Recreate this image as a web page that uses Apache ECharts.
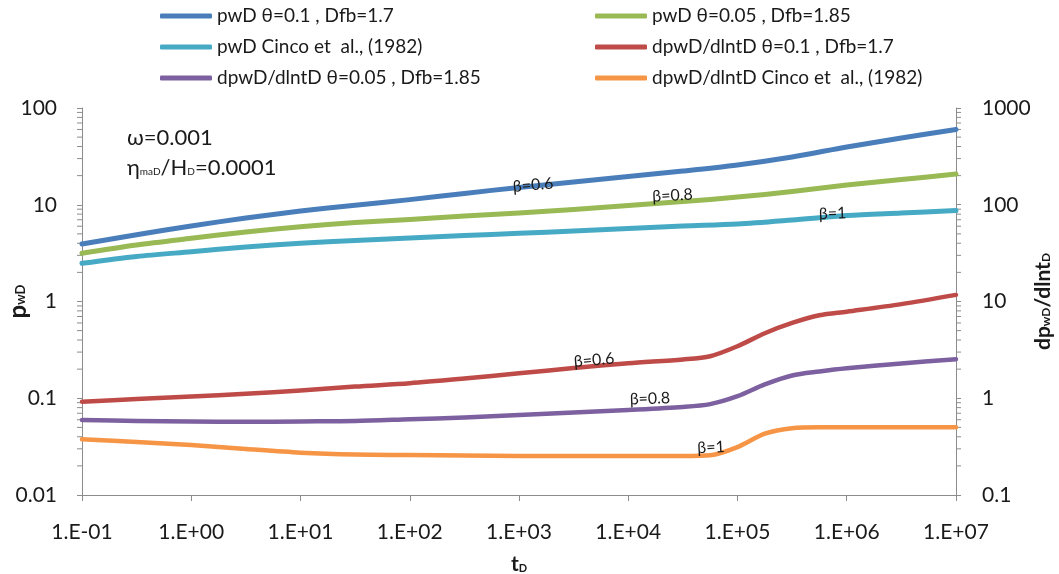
<!DOCTYPE html>
<html>
<head>
<meta charset="utf-8">
<title>pwD and derivative vs tD</title>
<script src="https://cdn.jsdelivr.net/npm/echarts@6/dist/echarts.min.js"></script>
<style>
  html, body { margin: 0; padding: 0; background: #ffffff; }
  #chart { width: 1059px; height: 574px; }
</style>
</head>
<body>
<div id="chart"></div>
<script>
// Dimensionless time grids (half decades; finer around the transition)
const tHalf = [0.1, 0.316, 1, 3.16, 10, 31.6, 100, 316, 1000, 3162, 10000, 31623, 100000, 316228, 1000000, 3162278, 10000000];
const tFine = [0.1, 0.316, 1, 3.16, 10, 31.6, 100, 316, 1000, 3162, 10000, 31623, 56234, 100000, 177828, 316228, 562341, 1000000, 3162278, 10000000];

// Dimensionless wellbore pressure (left axis)
const pwdTheta01 = [3.93, 4.9, 6.03, 7.3, 8.6, 9.9, 11.3, 13.1, 15.1, 17.2, 19.6, 22.3, 25.8, 31.2, 39.5, 49, 60];
const pwdTheta005 = [3.15, 3.84, 4.5, 5.23, 5.93, 6.55, 7.04, 7.65, 8.2, 8.93, 9.8, 10.8, 12.0, 13.7, 16.0, 18.2, 20.8];
const pwdCinco = [2.48, 2.92, 3.27, 3.66, 4.0, 4.27, 4.53, 4.81, 5.07, 5.35, 5.69, 6.03, 6.32, 6.95, 7.74, 8.22, 8.72];

// Pressure derivative dpwD/dlntD (right axis)
const derTheta01 = [0.92, 0.98, 1.04, 1.11, 1.2, 1.32, 1.43, 1.6, 1.81, 2.05, 2.3, 2.52, 2.72, 3.45, 4.7, 6.0, 7.2, 7.85, 9.4, 11.7];
const derTheta005 = [0.596, 0.582, 0.576, 0.57, 0.576, 0.582, 0.607, 0.633, 0.671, 0.713, 0.757, 0.813, 0.87, 1.05, 1.39, 1.72, 1.89, 2.04, 2.29, 2.53];
const derCinco = [0.377, 0.353, 0.329, 0.299, 0.274, 0.262, 0.259, 0.256, 0.253, 0.253, 0.253, 0.253, 0.258, 0.313, 0.43, 0.49, 0.5, 0.5, 0.5, 0.5];

const seriesNames = [
  'pwD θ=0.1 , Dfb=1.7',
  'pwD θ=0.05 , Dfb=1.85',
  'pwD Cinco et  al., (1982)',
  'dpwD/dlntD θ=0.1 , Dfb=1.7',
  'dpwD/dlntD θ=0.05 , Dfb=1.85',
  'dpwD/dlntD Cinco et  al., (1982)'
];
const seriesColors = ['#4A7EBB', '#98B954', '#46AAC5', '#BE4B48', '#7D60A0', '#F69546'];

// β annotations: [tD, value, text]
const betaLabels = [
  [1343, 16.0, 'β=0.6'],
  [25400, 12.46, 'β=0.8'],
  [741000, 8.12, 'β=1'],
  [4870, 2.48, 'β=0.6'],
  [15800, 0.99, 'β=0.8'],
  [57200, 0.31, 'β=1']
];
const betaRotate = [5, 3, 2, 5, 2, 3];

// Tick labels
const xTickLabels = ['1.E-01', '1.E+00', '1.E+01', '1.E+02', '1.E+03', '1.E+04', '1.E+05', '1.E+06', '1.E+07'];
const leftTickLabels = ['0.01', '0.1', '1', '10', '100'];
const rightTickLabels = ['0.1', '1', '10', '100', '1000'];
const leftMinorTicks = [0.02, 0.03, 0.04, 0.05, 0.06, 0.07, 0.08, 0.09,
  0.2, 0.3, 0.4, 0.5, 0.6, 0.7, 0.8, 0.9,
  2, 3, 4, 5, 6, 7, 8, 9,
  20, 30, 40, 50, 60, 70, 80, 90];
const rightMinorTicks = [0.2, 0.3, 0.4, 0.5, 0.6, 0.7, 0.8, 0.9,
  2, 3, 4, 5, 6, 7, 8, 9,
  20, 30, 40, 50, 60, 70, 80, 90,
  200, 300, 400, 500, 600, 700, 800, 900];

const FONT = 'Lato';
const AXIS_COLOR = '#8c8c8c';
const TEXT_COLOR = '#1a1a1a';

function pairs(xs, ys) { return xs.map((x, i) => [x, ys[i]]); }
function decade(v) { return Math.round(Math.log10(v)); }

const curveData = [
  pairs(tHalf, pwdTheta01),
  pairs(tHalf, pwdTheta005),
  pairs(tHalf, pwdCinco),
  pairs(tFine, derTheta01),
  pairs(tFine, derTheta005),
  pairs(tFine, derCinco)
];

const lineSeries = curveData.map((d, i) => ({
  name: seriesNames[i],
  type: 'line',
  xAxisIndex: 0,
  yAxisIndex: i < 3 ? 0 : 1,
  data: d,
  smooth: 0.3,
  symbol: 'none',
  showSymbol: false,
  color: seriesColors[i],
  lineStyle: { width: i < 3 ? 5 : 4.5, color: seriesColors[i], cap: 'round', join: 'round' },
  z: 3,
  markPoint: {
    symbol: 'rect',
    symbolSize: 0,
    silent: true,
    label: {
      show: true,
      position: 'inside',
      formatter: '{b}',
      fontFamily: FONT,
      fontSize: 16,
      color: TEXT_COLOR,
      rotate: betaRotate[i]
    },
    data: [{ name: betaLabels[i][2], coord: [betaLabels[i][0], betaLabels[i][1]] }]
  }
}));

// Minor tick marks at 2..9 of each decade, placed through the axis scales
const minorTickSeries = [
  {
    type: 'custom',
    xAxisIndex: 0,
    yAxisIndex: 0,
    silent: true,
    clip: false,
    data: leftMinorTicks.map(v => [0.1, v]),
    renderItem: (params, api) => {
      const p = api.coord([api.value(0), api.value(1)]);
      return { type: 'line', shape: { x1: p[0] - 5, y1: p[1], x2: p[0], y2: p[1] },
        style: { stroke: AXIS_COLOR, lineWidth: 1 } };
    }
  },
  {
    type: 'custom',
    xAxisIndex: 0,
    yAxisIndex: 1,
    silent: true,
    clip: false,
    data: rightMinorTicks.map(v => [10000000, v]),
    renderItem: (params, api) => {
      const p = api.coord([api.value(0), api.value(1)]);
      return { type: 'line', shape: { x1: p[0], y1: p[1], x2: p[0] + 5, y2: p[1] },
        style: { stroke: AXIS_COLOR, lineWidth: 1 } };
    }
  }
];

const legendCommon = {
  orient: 'vertical',
  top: 0,
  icon: 'roundRect',
  itemWidth: 52,
  itemHeight: 5,
  itemGap: 9,
  selectedMode: false,
  textStyle: { fontFamily: FONT, fontSize: 19, color: TEXT_COLOR, lineHeight: 22 }
};

const axisLineStyle = { show: true, lineStyle: { color: AXIS_COLOR, width: 1 } };
const axisTickStyle = { show: true, length: 5, lineStyle: { color: AXIS_COLOR, width: 1 } };
const labelStyle = { fontFamily: FONT, fontSize: 21, color: TEXT_COLOR };

const option = {
  animation: false,
  backgroundColor: '#ffffff',
  legend: [
    Object.assign({}, legendCommon, { left: 155, data: [seriesNames[0], seriesNames[2], seriesNames[4]] }),
    Object.assign({}, legendCommon, { left: 590, data: [seriesNames[1], seriesNames[3], seriesNames[5]] })
  ],
  grid: { left: 82, right: 103, top: 108, bottom: 79, containLabel: false, outerBoundsMode: 'none' },
  xAxis: {
    type: 'log',
    logBase: 10,
    min: 0.1,
    max: 10000000,
    axisLine: axisLineStyle,
    axisTick: Object.assign({}, axisTickStyle, { length: 6 }),
    splitLine: { show: false },
    axisLabel: Object.assign({}, labelStyle, {
      margin: 27,
      formatter: v => xTickLabels[decade(v) + 1]
    }),
    name: '{b|t}{s|D}',
    nameLocation: 'middle',
    nameGap: 57,
    nameMoveOverlap: false,
    nameTextStyle: {
      rich: {
        b: { fontFamily: FONT, fontSize: 21, fontWeight: 'bold', color: TEXT_COLOR, lineHeight: 24 },
        s: { fontFamily: FONT, fontSize: 11, fontWeight: 'bold', color: TEXT_COLOR, verticalAlign: 'bottom', lineHeight: 24, padding: [0, 0, 2, 0] }
      }
    }
  },
  yAxis: [
    {
      type: 'log',
      logBase: 10,
      min: 0.01,
      max: 100,
      position: 'left',
      axisLine: axisLineStyle,
      axisTick: axisTickStyle,
      splitLine: { show: false },
      axisLabel: Object.assign({}, labelStyle, {
        margin: 25,
        formatter: v => leftTickLabels[decade(v) + 2]
      }),
      name: '{b|p}{s|wD}',
      nameLocation: 'middle',
      nameRotate: 90,
      nameGap: 51,
      nameMoveOverlap: false,
      nameTextStyle: {
        rich: {
          b: { fontFamily: FONT, fontSize: 24, fontWeight: 'bold', color: TEXT_COLOR, lineHeight: 26 },
          s: { fontFamily: FONT, fontSize: 13, fontWeight: 'bold', color: TEXT_COLOR, verticalAlign: 'bottom', lineHeight: 26, padding: [0, 0, 4, 0] }
        }
      }
    },
    {
      type: 'log',
      logBase: 10,
      min: 0.1,
      max: 1000,
      position: 'right',
      axisLine: axisLineStyle,
      axisTick: axisTickStyle,
      splitLine: { show: false },
      axisLabel: Object.assign({}, labelStyle, {
        margin: 26,
        formatter: v => rightTickLabels[decade(v) + 1]
      }),
      name: '{b|dp}{s|wD}{b|/dlnt}{s|D}',
      nameLocation: 'middle',
      nameRotate: 90,
      nameGap: 75,
      nameMoveOverlap: false,
      nameTextStyle: {
        rich: {
          b: { fontFamily: FONT, fontSize: 21, fontWeight: 'bold', color: TEXT_COLOR, lineHeight: 24 },
          s: { fontFamily: FONT, fontSize: 12, fontWeight: 'bold', color: TEXT_COLOR, verticalAlign: 'bottom', lineHeight: 24, padding: [0, 0, 3, 0] }
        }
      }
    }
  ],
  graphic: [
    {
      type: 'text',
      left: 127,
      top: 127,
      silent: true,
      style: {
        text: '{a|ω=0.001}\n{a|η}{s|maD}{a|/H}{s|D}{a|=0.0001}',
        rich: {
          a: { fontFamily: FONT, fontSize: 22, fill: TEXT_COLOR, lineHeight: 30 },
          s: { fontFamily: FONT, fontSize: 10, fill: TEXT_COLOR, lineHeight: 30, verticalAlign: 'bottom', padding: [0, 0, 6, 0] }
        }
      }
    }
  ],
  series: lineSeries.concat(minorTickSeries)
};

const chart = echarts.init(document.getElementById('chart'), null, { renderer: 'canvas' });
chart.setOption(option);
</script>
</body>
</html>
